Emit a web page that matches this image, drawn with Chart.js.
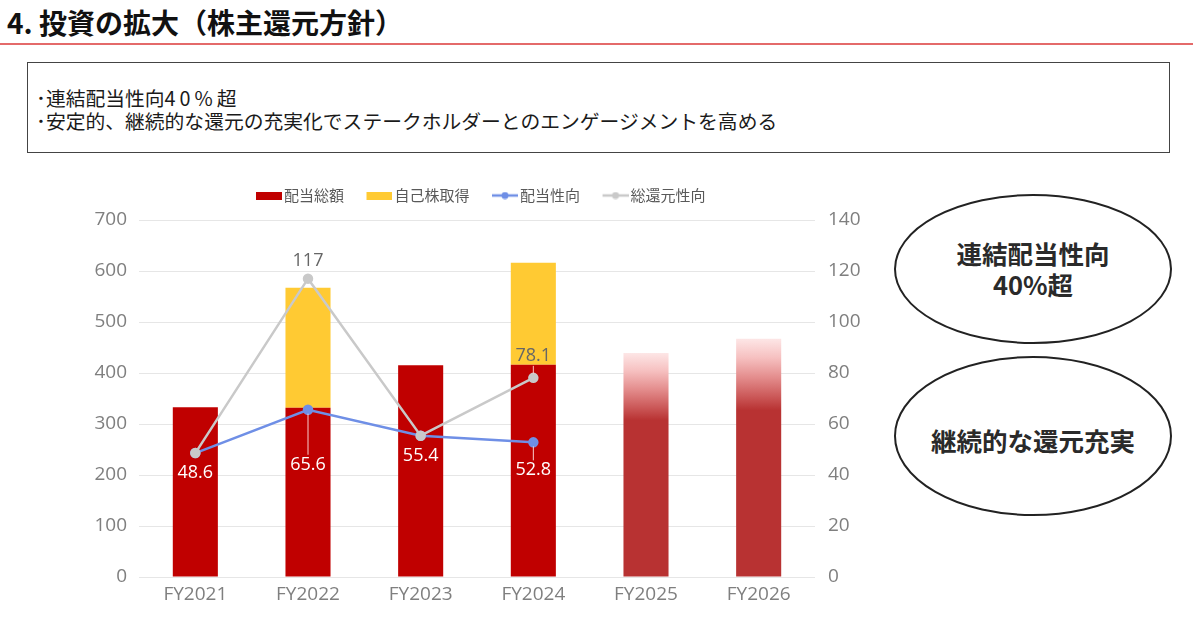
<!DOCTYPE html>
<html>
<head>
<meta charset="utf-8">
<script src="https://cdn.jsdelivr.net/npm/chart.js@4.4.1/dist/chart.umd.min.js"></script>
<style>
html,body{margin:0;padding:0;background:#fff;width:1200px;height:620px;overflow:hidden;font-family:"Noto Sans CJK JP","Noto Sans",sans-serif;}
#title{position:absolute;left:7px;top:3px;font-size:28px;font-weight:bold;color:#111;line-height:38px;white-space:nowrap;}
#rule{position:absolute;left:0;top:43px;width:1193px;height:1.5px;background:#e46a6a;}
#box{position:absolute;left:27px;top:62px;width:1143px;height:91px;border:1.5px solid #444;box-sizing:border-box;}
.bl{position:absolute;left:8px;font-size:19.8px;color:#1a1a1a;line-height:24px;white-space:nowrap;}
.wide{letter-spacing:4px;}
#chartWrap{position:absolute;left:60px;top:171px;width:820px;height:447px;}
#ovals{position:absolute;left:0;top:0;}
.ov{position:absolute;font-size:25.5px;font-weight:bold;color:#2a2a2a;text-align:center;line-height:31px;white-space:nowrap;}
</style>
</head>
<body>
<div id="title">4. 投資の拡大（株主還元方針）</div>
<div id="rule"></div>
<div id="box">
  <div class="bl" style="top:23px;">･連結配当性向<span class="wide">40%</span>超</div>
  <div class="bl" style="top:46px;">･安定的、継続的な還元の充実化でステークホルダーとのエンゲージメントを高める</div>
</div>
<svg id="ovals" width="1200" height="620">
  <ellipse cx="1033" cy="269" rx="138" ry="74" fill="none" stroke="#222" stroke-width="2"/>
  <ellipse cx="1033" cy="436" rx="138" ry="79" fill="none" stroke="#222" stroke-width="2"/>
</svg>
<div class="ov" style="left:895px;width:276px;top:237px;">連結配当性向<br>40%超</div>
<div class="ov" style="left:895px;width:276px;top:424px;">継続的な還元充実</div>
<div id="chartWrap"><canvas id="c" width="820" height="447"></canvas></div>
<script>
const categories = ['FY2021', 'FY2022', 'FY2023', 'FY2024', 'FY2025', 'FY2026'];
const dividendTotal = [333, 332, 415, 416, null, null];
const buyback = [null, 235, null, 200, null, null];
const forecastDividend = [null, null, null, null, 439, 467];
const payoutRatio = [48.6, 65.6, 55.4, 52.8, null, null];
const totalReturnRatio = [48.6, 117, 55.4, 78.1, null, null];
const seriesNames = ['配当総額', '自己株取得', '配当性向', '総還元性向'];

const RED = '#C00000', YELLOW = '#FFCA33', BLUE = '#6F8FE6', GRAY = '#C9C9C9', FC = '#B83232';
const FONT = '"Noto Sans CJK JP","Noto Sans",sans-serif';
const NUMFONT = '"Open Sans","Noto Sans",sans-serif';

// legend icons: 26px wide, drawn shifted right inside a wider transparent canvas
const ICON_SHIFT = 11;
function rectIcon(color){
  const c = document.createElement('canvas'); c.width = 26 + ICON_SHIFT; c.height = 8;
  const x = c.getContext('2d'); x.fillStyle = color; x.fillRect(ICON_SHIFT,0,26,8); return c;
}
function lineIcon(color){
  const c = document.createElement('canvas'); c.width = 26 + ICON_SHIFT; c.height = 8;
  const x = c.getContext('2d'); x.strokeStyle = color; x.lineWidth = 2.5;
  x.beginPath(); x.moveTo(ICON_SHIFT,4); x.lineTo(ICON_SHIFT + 26,4); x.stroke();
  x.fillStyle = color; x.beginPath(); x.arc(ICON_SHIFT + 13,4,3.5,0,Math.PI*2); x.fill(); return c;
}
const legendIcons = [rectIcon(RED), rectIcon(YELLOW), lineIcon(BLUE), lineIcon(GRAY)];

function forecastFill(ctx){
  const chart = ctx.chart;
  if (!chart.chartArea || ctx.type !== 'data' || ctx.raw == null) return FC;
  const y = chart.scales.y;
  const yBase = y.getPixelForValue(0), yTop = y.getPixelForValue(ctx.raw);
  const g = chart.ctx.createLinearGradient(0, yBase, 0, yTop);
  g.addColorStop(0, FC);
  g.addColorStop(0.70, FC);
  g.addColorStop(0.76, '#cc5a5a');
  g.addColorStop(0.84, '#e48e8e');
  g.addColorStop(0.92, '#f6c0c0');
  g.addColorStop(1, '#fde6e6');
  return g;
}

const labelSpecs = [
  { dataset: 2, show: [true, true, true, true], dy: [20, 55, 20, 28], leader: [false, true, false, true], color: '#ffffff', leaderColor: 'rgba(255,230,230,0.9)' },
  { dataset: 3, show: [false, true, false, true], dy: [0, -18, 0, -22], leader: [false, false, false, true], color: '#666666', leaderColor: 'rgba(255,200,200,0.95)' }
];

const labelPlugin = {
  id: 'pointLabels',
  afterDatasetsDraw(chart){
    const ctx = chart.ctx;
    ctx.save();
    ctx.font = '18px ' + NUMFONT;
    ctx.textAlign = 'center';
    ctx.textBaseline = 'middle';
    labelSpecs.forEach(spec => {
      const meta = chart.getDatasetMeta(spec.dataset);
      const data = chart.data.datasets[spec.dataset].data;
      meta.data.forEach((pt, i) => {
        if (data[i] == null || !spec.show[i]) return;
        const ly = pt.y + spec.dy[i];
        if (spec.leader[i]) {
          const s = Math.sign(spec.dy[i]);
          ctx.strokeStyle = spec.leaderColor; ctx.lineWidth = 1;
          ctx.beginPath(); ctx.moveTo(pt.x, pt.y + s*4); ctx.lineTo(pt.x, ly - s*10); ctx.stroke();
        }
        ctx.fillStyle = spec.color;
        ctx.fillText(String(data[i]), pt.x, ly);
      });
    });
    ctx.restore();
  }
};

const legendHeightPlugin = {
  id: 'legendHeight',
  afterInit(chart){
    const lg = chart.legend;
    if (!lg) return;
    const orig = lg.fit.bind(lg);
    lg.fit = function(){ orig(); this.height = 49; };
  }
};

new Chart(document.getElementById('c'), {
  type: 'bar',
  data: {
    labels: categories,
    datasets: [
      { type: 'bar', label: seriesNames[0], data: dividendTotal, backgroundColor: RED, yAxisID: 'y', stack: 's', order: 3 },
      { type: 'bar', label: seriesNames[1], data: buyback, backgroundColor: YELLOW, yAxisID: 'y', stack: 's', order: 3 },
      { type: 'line', label: seriesNames[2], data: payoutRatio, borderColor: BLUE, backgroundColor: BLUE, pointBackgroundColor: BLUE, pointBorderColor: BLUE, borderWidth: 2.5, pointRadius: 4, yAxisID: 'y1', order: 1 },
      { type: 'line', label: seriesNames[3], data: totalReturnRatio, borderColor: GRAY, backgroundColor: GRAY, pointBackgroundColor: GRAY, pointBorderColor: GRAY, borderWidth: 2.5, pointRadius: 4, yAxisID: 'y1', order: 0 },
      { type: 'bar', label: 'forecast', data: forecastDividend, backgroundColor: forecastFill, yAxisID: 'y', stack: 's', order: 3 }
    ]
  },
  options: {
    responsive: false,
    animation: false,
    layout: { padding: { left: 16, right: 0, top: 0, bottom: 0 } },
    datasets: { bar: { categoryPercentage: 1, barPercentage: 0.4 } },
    plugins: {
      tooltip: { enabled: false },
      legend: {
        position: 'top',
        labels: {
          usePointStyle: true,
          pointStyleWidth: 26,
          padding: 17,
          color: '#595959',
          font: { size: 15, family: FONT },
          filter: (item) => item.datasetIndex < 4,
          sort: (a, b) => a.datasetIndex - b.datasetIndex,
          generateLabels: (chart) => Chart.defaults.plugins.legend.labels.generateLabels(chart)
            .map(it => Object.assign(it, { pointStyle: legendIcons[it.datasetIndex] || it.pointStyle }))
        }
      }
    },
    scales: {
      x: {
        stacked: true,
        grid: { display: false, drawTicks: false },
        border: { display: false },
        ticks: { color: '#7f7f7f', font: { size: 19, family: NUMFONT }, padding: 6 },
        afterFit: (s) => { s.height = 41; }
      },
      y: {
        stacked: true, min: 0, max: 700,
        ticks: { stepSize: 100, color: '#7f7f7f', font: { size: 19, family: NUMFONT }, padding: 12 },
        grid: { color: '#e6e6e6', drawTicks: false, lineWidth: 1 },
        border: { display: false },
        afterFit: (s) => { s.width = 63; }
      },
      y1: {
        position: 'right', min: 0, max: 140,
        ticks: { stepSize: 20, color: '#7f7f7f', font: { size: 19, family: NUMFONT }, padding: 13 },
        grid: { display: false, drawTicks: false },
        border: { display: false },
        afterFit: (s) => { s.width = 65; }
      }
    }
  },
  plugins: [labelPlugin, legendHeightPlugin]
});
</script>
</body>
</html>
